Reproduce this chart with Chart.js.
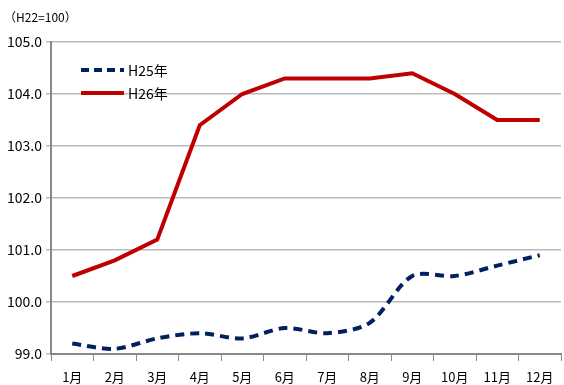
<!DOCTYPE html>
<html>
<head>
<meta charset="utf-8">
<script src="https://cdn.jsdelivr.net/npm/chart.js@4/dist/chart.umd.min.js"></script>
<style>
  body { margin: 0; background: #fff; }
</style>
</head>
<body>
<canvas id="cpiChart" width="564" height="385"></canvas>
<script>
const months = ['1月', '2月', '3月', '4月', '5月', '6月', '7月', '8月', '9月', '10月', '11月', '12月'];
const h25 = [99.2, 99.1, 99.3, 99.4, 99.3, 99.5, 99.4, 99.6, 100.5, 100.5, 100.7, 100.9];
const h26 = [100.5, 100.8, 101.2, 103.4, 104.0, 104.3, 104.3, 104.3, 104.4, 104.0, 103.5, 103.5];
const unitLabel = '（H22=100）';

const fontFamily = '"Noto Sans CJK JP", sans-serif';

// unit label and legend drawn inside the canvas
const extras = {
    id: 'extras',
    afterDraw(chart) {
        const ctx = chart.ctx;
        ctx.save();
        ctx.fillStyle = '#000';
        ctx.font = '12px ' + fontFamily;
        ctx.textBaseline = 'middle';
        ctx.fillText(unitLabel, 4, 17);

        // legend
        const items = [
            { label: 'H25年', color: '#002060', dash: [8, 5] },
            { label: 'H26年', color: '#C00000', dash: [] }
        ];
        ctx.font = '14px ' + fontFamily;
        items.forEach((it, i) => {
            const y = 70 + i * 23;
            ctx.strokeStyle = it.color;
            ctx.lineWidth = 4;
            ctx.setLineDash(it.dash);
            ctx.beginPath();
            ctx.moveTo(81, y);
            ctx.lineTo(124, y);
            ctx.stroke();
            ctx.setLineDash([]);
            ctx.fillText(it.label, 128, y + 1);
        });
        ctx.restore();
    }
};

new Chart(document.getElementById('cpiChart'), {
    type: 'line',
    data: {
        labels: months,
        datasets: [{
            label: 'H25年',
            data: h25,
            borderColor: '#002060',
            borderWidth: 4,
            borderDash: [9, 6],
            pointRadius: 0,
            tension: 0.3,
            fill: false
        }, {
            label: 'H26年',
            data: h26,
            borderColor: '#C00000',
            borderWidth: 4,
            pointRadius: 0,
            tension: 0,
            fill: false
        }]
    },
    options: {
        responsive: false,
        animation: false,
        layout: { padding: { top: 42, right: 3, left: 0, bottom: 0 } },
        plugins: {
            legend: { display: false },
            tooltip: { enabled: false }
        },
        scales: {
            x: {
                offset: true,
                afterFit(scale) { scale.height = 31; },
                grid: {
                    offset: true,
                    drawOnChartArea: false,
                    color: '#888',
                    tickLength: 7
                },
                border: { color: '#888', width: 2 },
                ticks: {
                    color: '#000',
                    font: { family: fontFamily, size: 13 },
                    padding: 8,
                    maxRotation: 0,
                    autoSkip: false
                }
            },
            y: {
                min: 99,
                max: 105,
                afterFit(scale) { scale.width = 51; },
                grid: {
                    color: '#bbb',
                    lineWidth: 1.5,
                    tickLength: 5
                },
                border: { color: '#888', width: 2 },
                ticks: {
                    stepSize: 1,
                    color: '#000',
                    font: { family: fontFamily, size: 14 },
                    padding: 4,
                    callback: v => v.toFixed(1)
                }
            }
        }
    },
    plugins: [extras]
});
</script>
</body>
</html>
